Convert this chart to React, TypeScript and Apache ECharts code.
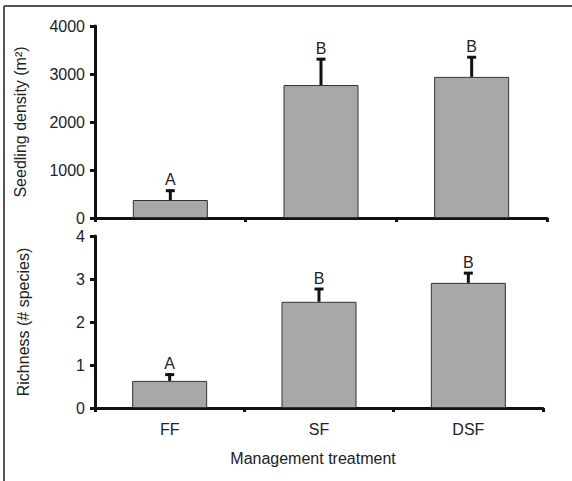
import React, { useEffect, useRef } from "react";
import * as echarts from "echarts";

const categories = ["FF", "SF", "DSF"];
const densityMean = [375, 2770, 2940];
const densityUpper = [590, 3330, 3370];
const densityLetters = ["A", "B", "B"];
const richnessMean = [0.63, 2.47, 2.91];
const richnessUpper = [0.8, 2.79, 3.16];
const richnessLetters = ["A", "B", "B"];

const densityAxis = { min: 0, max: 4000, interval: 1000 };
const richnessAxis = { min: 0, max: 4, interval: 1 };

const FONT = "Liberation Sans";
const INK = "#111";
const TEXT = "#222";
const FS = 16;

function errorSeries(mean: number[], upper: number[], letters: string[], idx: number) {
  return {
    type: "custom",
    xAxisIndex: idx,
    yAxisIndex: idx,
    z: 5,
    clip: false,
    data: mean.map((m, i) => [i, m, upper[i]]),
    renderItem: (params: any, api: any) => {
      const i = params.dataIndex;
      const base = api.coord([api.value(0), api.value(1)]);
      const top = api.coord([api.value(0), api.value(2)]);
      return {
        type: "group",
        children: [
          {
            type: "line",
            shape: { x1: base[0], y1: base[1], x2: base[0], y2: top[1] },
            style: { stroke: INK, lineWidth: 3 },
          },
          {
            type: "line",
            shape: { x1: base[0] - 4.5, y1: top[1] + 1, x2: base[0] + 4.5, y2: top[1] + 1 },
            style: { stroke: INK, lineWidth: 3 },
          },
          {
            type: "text",
            x: base[0],
            y: top[1] - 2,
            style: {
              text: letters[i],
              fill: TEXT,
              fontSize: FS,
              fontFamily: FONT,
              align: "center",
              verticalAlign: "bottom",
            },
          },
        ],
      };
    },
  };
}

export default function App() {
  const ref = useRef<HTMLDivElement>(null);
  useEffect(() => {
    if (!ref.current) return;
    const chart = echarts.init(ref.current, null, { renderer: "svg" });
    const axisLine = { show: true, lineStyle: { color: INK, width: 3 } };
    const axisTick = { show: true, length: 4, lineStyle: { color: INK, width: 3 } };
    const plain = (v: number) => String(v);
    const xBase = (idx: number) => ({
      type: "category",
      gridIndex: idx,
      data: categories,
      boundaryGap: true,
      axisLine,
      axisTick,
      axisLabel: {
        show: idx === 1,
        fontSize: FS,
        color: TEXT,
        fontFamily: FONT,
        margin: 13,
      },
      splitLine: { show: false },
    });
    chart.setOption({
      animation: false,
      textStyle: { fontFamily: FONT },
      grid: [
        { left: 95, top: 26, width: 452, height: 192 },
        { left: 95, top: 236, width: 448, height: 172 },
      ],
      xAxis: [
        xBase(0),
        {
          ...xBase(1),
          name: "Management treatment",
          nameLocation: "middle",
          nameGap: 42,
          nameTextStyle: { fontSize: FS, color: TEXT, fontFamily: FONT, padding: [0, 12, 0, 0] },
        },
      ],
      yAxis: [
        {
          type: "value",
          gridIndex: 0,
          ...densityAxis,
          axisLine,
          axisTick: { ...axisTick, length: 5 },
          splitLine: { show: false },
          axisLabel: { fontSize: FS, color: TEXT, fontFamily: FONT, margin: 10, formatter: plain },
          name: "Seedling density (m²)",
          nameLocation: "middle",
          nameGap: 67,
          nameTextStyle: { fontSize: FS, color: TEXT, fontFamily: FONT },
        },
        {
          type: "value",
          gridIndex: 1,
          ...richnessAxis,
          axisLine,
          axisTick: { ...axisTick, length: 5 },
          splitLine: { show: false },
          axisLabel: { fontSize: FS, color: TEXT, fontFamily: FONT, margin: 10, formatter: plain },
          name: "Richness (# species)",
          nameLocation: "middle",
          nameGap: 64,
          nameTextStyle: { fontSize: FS, color: TEXT, fontFamily: FONT },
        },
      ],
      series: [
        {
          type: "bar",
          xAxisIndex: 0,
          yAxisIndex: 0,
          data: densityMean,
          barWidth: 75,
          itemStyle: { color: "#a8a8a8", borderColor: "#333", borderWidth: 1 },
        },
        {
          type: "bar",
          xAxisIndex: 1,
          yAxisIndex: 1,
          data: richnessMean,
          barWidth: 75,
          itemStyle: { color: "#a8a8a8", borderColor: "#333", borderWidth: 1 },
        },
        errorSeries(densityMean, densityUpper, densityLetters, 0),
        errorSeries(richnessMean, richnessUpper, richnessLetters, 1),
      ],
      graphic: [
        { type: "line", shape: { x1: 4, y1: 6, x2: 572, y2: 6 }, style: { stroke: "#555", lineWidth: 2 } },
        { type: "line", shape: { x1: 4, y1: 6, x2: 4, y2: 481 }, style: { stroke: "#555", lineWidth: 2 } },
      ],
    });
    return () => chart.dispose();
  }, []);
  return (
    <div
      ref={ref}
      style={{ position: "fixed", left: 0, top: 0, width: 572, height: 481, background: "#fff" }}
    />
  );
}
